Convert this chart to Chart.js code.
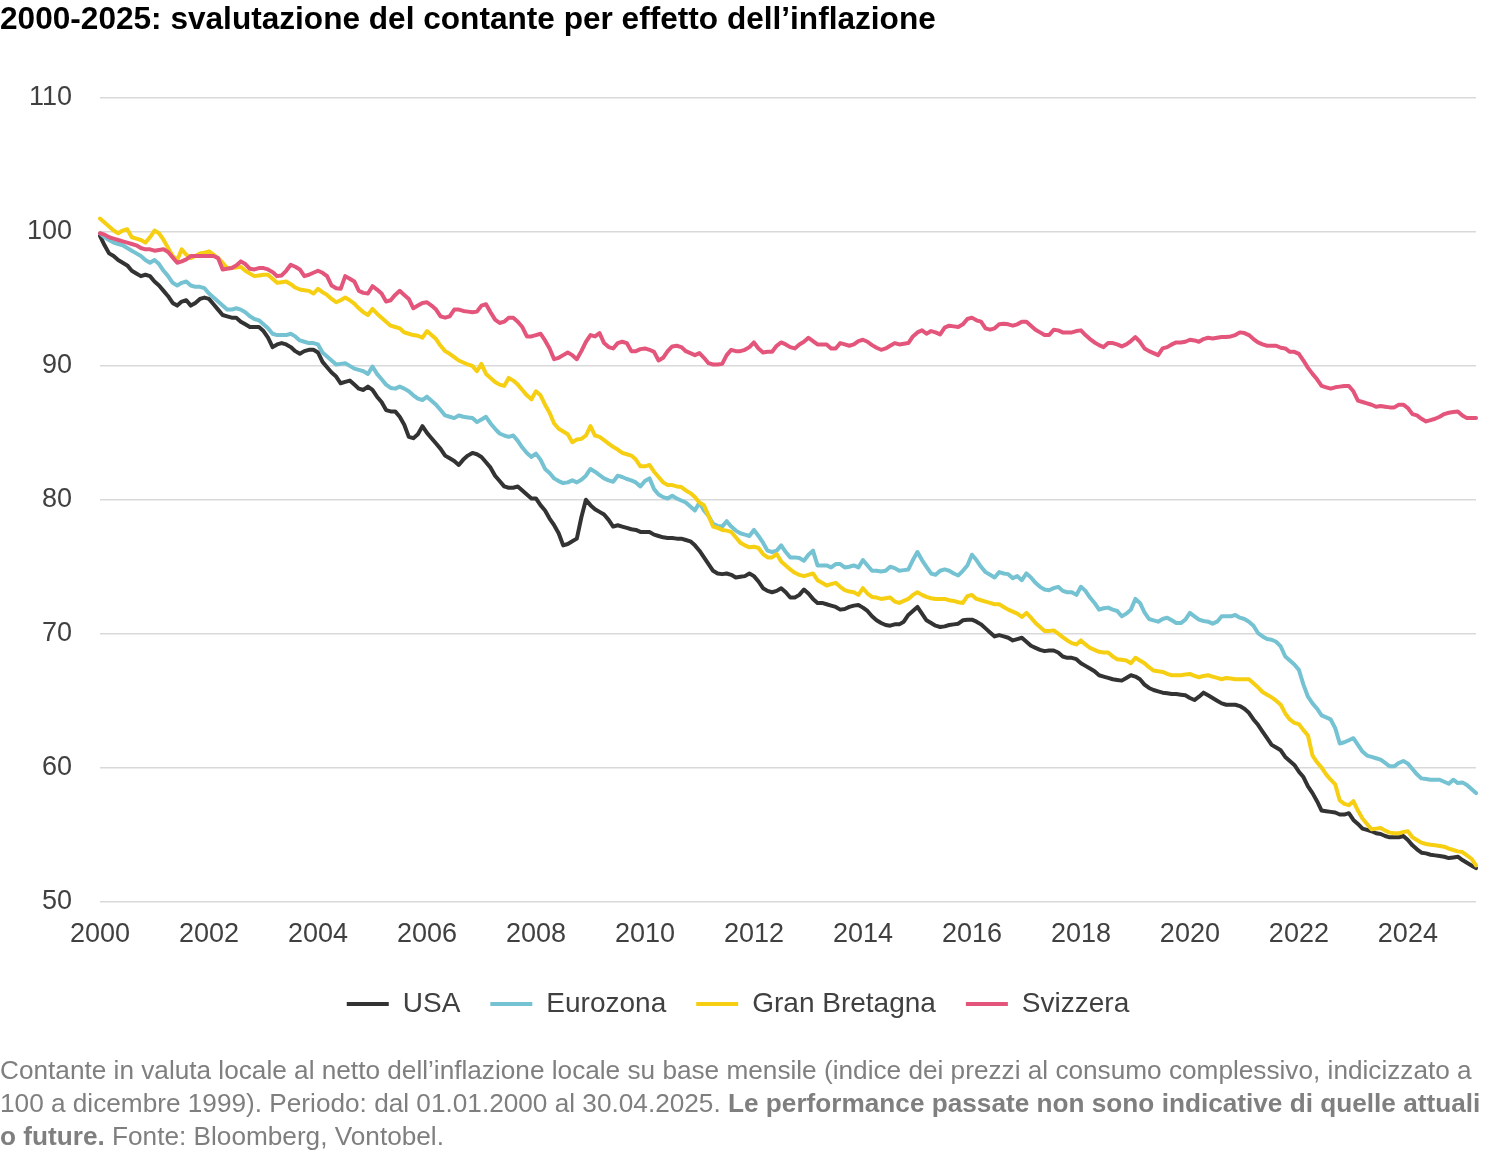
<!DOCTYPE html>
<html lang="it">
<head>
<meta charset="utf-8">
<title>Svalutazione del contante</title>
<script src="https://cdn.jsdelivr.net/npm/chart.js@4.4.1/dist/chart.umd.min.js"></script>
<style>
  html, body { margin: 0; padding: 0; background: #fff; }
  body { width: 1500px; height: 1154px; position: relative; overflow: hidden;
         font-family: 'Liberation Sans', Arial, sans-serif; }
  #title { position: absolute; left: 0; top: 0; font-weight: bold; font-size: 31.6px;
           line-height: 36px; color: #000; white-space: nowrap; }
  #wrap { position: absolute; left: 0; top: 0; width: 1500px; height: 1154px; }
  #note { position: absolute; left: 0; top: 1054px; font-size: 26.2px; line-height: 33px;
          color: #7f7f7f; white-space: nowrap; }
  #note b { font-weight: bold; }
</style>
</head>
<body>
<div id="wrap"><canvas id="chart"></canvas></div>
<div id="title">2000-2025: svalutazione del contante per effetto dell’inflazione</div>
<div id="note">Contante in valuta locale al netto dell’inflazione locale su base mensile (indice dei prezzi al consumo complessivo, indicizzato a<br>100 a dicembre 1999). Periodo: dal 01.01.2000 al 30.04.2025. <b>Le performance passate non sono indicative di quelle attuali</b><br><b>o future.</b> Fonte: Bloomberg, Vontobel.</div>
<script>
// monthly index values, Jan 2000 .. Apr 2025 (100 = Dec 1999)
const usa = [
  99.7, 99.0, 98.4, 98.2, 97.9, 97.7, 97.5, 97.1, 96.9, 96.7, 96.8, 96.7,
  96.3, 96.0, 95.6, 95.2, 94.7, 94.5, 94.8, 94.9, 94.5, 94.7, 95.0, 95.1,
  95.0, 94.6, 94.2, 93.8, 93.7, 93.6, 93.6, 93.3, 93.1, 92.9, 92.9, 92.9,
  92.6, 92.1, 91.4, 91.6, 91.7, 91.6, 91.4, 91.1, 90.9, 91.1, 91.2, 91.2,
  91.0, 90.3, 89.9, 89.5, 89.2, 88.7, 88.8, 88.9, 88.6, 88.3, 88.2, 88.45,
  88.2, 87.7, 87.3, 86.7, 86.6, 86.6, 86.2, 85.6, 84.7, 84.6, 84.9, 85.5,
  85.0, 84.6, 84.2, 83.8, 83.3, 83.1, 82.9, 82.6, 83.0, 83.3, 83.5, 83.4,
  83.2, 82.8, 82.4, 81.8, 81.4, 81.0, 80.9, 80.9, 81.0, 80.7, 80.4, 80.1,
  80.1, 79.6, 79.2, 78.6, 78.1, 77.5, 76.6, 76.7, 76.9, 77.1, 78.7, 80.0,
  79.6, 79.3, 79.1, 78.9, 78.5, 78.0, 78.1, 78.0, 77.9, 77.8, 77.75, 77.6,
  77.6, 77.6, 77.4, 77.3, 77.2, 77.15, 77.15, 77.1, 77.1, 77.0, 76.9, 76.6,
  76.2, 75.7, 75.2, 74.7, 74.5, 74.45, 74.5, 74.4, 74.2, 74.25, 74.3, 74.5,
  74.3, 73.9, 73.4, 73.2, 73.1, 73.2, 73.4, 73.1, 72.7, 72.7, 72.9, 73.3,
  73.0, 72.6, 72.3, 72.3, 72.2, 72.1, 72.0, 71.8, 71.85, 72.0, 72.1, 72.15,
  71.95, 71.7, 71.3, 71.0, 70.8, 70.65, 70.6, 70.7, 70.7, 70.9, 71.4, 71.7,
  72.0, 71.5, 71.0, 70.8, 70.6, 70.5, 70.55, 70.65, 70.7, 70.75, 71.0, 71.05,
  71.05, 70.9, 70.7, 70.4, 70.1, 69.8, 69.9, 69.8, 69.7, 69.5, 69.6, 69.7,
  69.4, 69.1, 68.95, 68.8, 68.7, 68.75, 68.75, 68.6, 68.3, 68.2, 68.2, 68.1,
  67.8, 67.6, 67.4, 67.2, 66.9, 66.8, 66.7, 66.6, 66.55, 66.5, 66.7, 66.9,
  66.8, 66.6, 66.2, 65.95, 65.8, 65.7, 65.6, 65.55, 65.5, 65.5, 65.45, 65.4,
  65.2, 65.05, 65.3, 65.6, 65.4, 65.2, 65.0, 64.8, 64.7, 64.7, 64.7, 64.6,
  64.4, 64.1, 63.6, 63.2, 62.7, 62.2, 61.7, 61.5, 61.3, 60.8, 60.5, 60.2,
  59.7, 59.3, 58.6, 58.1, 57.5, 56.8, 56.75, 56.7, 56.65, 56.5, 56.5, 56.6,
  56.1, 55.8, 55.45, 55.35, 55.25, 55.1, 55.05, 54.9, 54.8, 54.8, 54.8, 54.9,
  54.6, 54.2, 53.9, 53.65, 53.6, 53.5, 53.45, 53.4, 53.35, 53.25, 53.3, 53.35,
  53.1, 52.9, 52.7, 52.5
];
const eurozona = [
  99.9, 99.6, 99.4, 99.2, 99.1, 99.0, 98.8, 98.6, 98.4, 98.2, 97.9, 97.7,
  97.9, 97.6, 97.1, 96.7, 96.2, 96.0, 96.2, 96.3, 96.0, 95.9, 95.9, 95.8,
  95.4, 95.1, 94.8, 94.5, 94.2, 94.2, 94.3, 94.2, 94.0, 93.7, 93.5, 93.4,
  93.1, 92.8, 92.4, 92.3, 92.3, 92.3, 92.4, 92.2, 91.9, 91.8, 91.7, 91.7,
  91.6, 91.0, 90.7, 90.4, 90.1, 90.15, 90.2, 90.0, 89.8, 89.7, 89.6, 89.4,
  89.95, 89.4, 89.0, 88.6, 88.35, 88.3, 88.45, 88.3, 88.1, 87.8, 87.55, 87.45,
  87.7, 87.4, 87.1, 86.7, 86.3, 86.2, 86.1, 86.3, 86.2, 86.15, 86.1, 85.8,
  86.0, 86.2, 85.7, 85.3, 84.95, 84.8, 84.7, 84.8, 84.4, 83.9, 83.5, 83.2,
  83.45, 83.0, 82.3, 82.0, 81.6, 81.4, 81.25, 81.3, 81.45, 81.3, 81.5, 81.8,
  82.3, 82.1, 81.85, 81.6, 81.45, 81.35, 81.8, 81.7, 81.55, 81.45, 81.3, 81.0,
  81.4, 81.6, 80.8, 80.4, 80.2, 80.1, 80.3, 80.1, 79.95, 79.8, 79.5, 79.2,
  79.8, 79.2, 78.8, 78.2, 78.05, 78.0, 78.4, 78.0, 77.7, 77.5, 77.4, 77.3,
  77.75, 77.3, 76.8, 76.2, 76.1, 76.2, 76.6, 76.1, 75.7, 75.7, 75.65, 75.45,
  75.9, 76.2, 75.1, 75.1, 75.1, 74.95, 75.2, 75.2, 74.95, 75.0, 75.1, 74.95,
  75.5, 75.1, 74.7, 74.7, 74.65, 74.7, 75.0, 74.9, 74.7, 74.75, 74.8, 75.5,
  76.1, 75.5, 75.0, 74.5, 74.4, 74.7, 74.8, 74.7, 74.5, 74.35, 74.7, 75.1,
  75.9, 75.5, 75.0, 74.6, 74.4, 74.2, 74.6, 74.5, 74.45, 74.15, 74.3, 74.0,
  74.5, 74.2, 73.8, 73.5, 73.3, 73.25, 73.4, 73.5, 73.2, 73.1, 73.1, 72.9,
  73.5, 73.2, 72.7, 72.3, 71.8, 71.9, 71.95, 71.8, 71.7, 71.3, 71.5, 71.8,
  72.6, 72.3, 71.6, 71.1, 71.0, 70.9, 71.1, 71.2, 71.0, 70.8, 70.8, 71.05,
  71.55, 71.3, 71.05, 70.95, 70.9, 70.75, 70.9, 71.3, 71.3, 71.3, 71.4, 71.2,
  71.1, 70.9, 70.6, 70.05, 69.8, 69.6, 69.55, 69.4, 69.05, 68.3, 68.0, 67.7,
  67.3, 66.2, 65.3, 64.8, 64.4, 63.9, 63.75, 63.6, 62.95, 61.8, 61.9, 62.05,
  62.2, 61.7, 61.2, 60.9, 60.8, 60.7, 60.6, 60.35, 60.1, 60.1, 60.35, 60.5,
  60.3, 59.9, 59.5, 59.2, 59.15, 59.1, 59.1, 59.1, 58.95, 58.8, 59.1, 58.85,
  58.9, 58.7, 58.4, 58.1
];
const granBretagna = [
  101.0, 100.7, 100.4, 100.1, 99.9, 100.1, 100.2, 99.6, 99.5, 99.4, 99.2, 99.6,
  100.1, 99.9, 99.4, 98.8, 98.2, 97.9, 98.7, 98.3, 98.05, 98.2, 98.4, 98.45,
  98.55, 98.3, 98.05, 97.7, 97.3, 97.3, 97.35, 97.4, 97.1, 96.9, 96.7, 96.75,
  96.8, 96.8, 96.5, 96.2, 96.25, 96.3, 96.1, 95.85, 95.7, 95.65, 95.6, 95.4,
  95.75, 95.5, 95.3, 95.0, 94.75, 94.9, 95.1, 94.9, 94.65, 94.3, 94.0, 93.8,
  94.25, 93.9, 93.6, 93.3, 93.0, 92.9, 92.8, 92.5, 92.4, 92.3, 92.25, 92.1,
  92.6, 92.3, 92.0, 91.5, 91.1, 90.9, 90.65, 90.4, 90.25, 90.1, 90.0, 89.6,
  90.15, 89.4, 89.1, 88.8, 88.6, 88.5, 89.1, 88.9, 88.6, 88.2, 87.8, 87.5,
  88.1, 87.8, 87.1, 86.5, 85.7, 85.3, 85.1, 84.9, 84.3, 84.5, 84.55, 84.8,
  85.5, 84.8, 84.7, 84.45, 84.2, 83.95, 83.75, 83.5, 83.4, 83.3, 83.0, 82.5,
  82.5, 82.6, 82.1, 81.7, 81.3, 81.1, 81.1, 81.0, 80.95, 80.7, 80.5, 80.2,
  79.8, 79.6, 78.8, 78.0, 77.9, 77.75, 77.7, 77.6, 77.2, 76.8, 76.6, 76.45,
  76.5, 76.4, 75.95, 75.7, 75.7, 75.95, 75.4, 75.1, 74.8, 74.55, 74.4, 74.3,
  74.4, 74.5, 74.0, 73.8, 73.6, 73.7, 73.8, 73.5, 73.25, 73.15, 73.1, 72.9,
  73.4, 73.0, 72.75, 72.7, 72.6, 72.65, 72.7, 72.4, 72.3, 72.45, 72.6, 72.9,
  73.1, 72.9, 72.75, 72.65, 72.6, 72.6, 72.6, 72.5, 72.45, 72.35, 72.3, 72.8,
  72.9, 72.6, 72.5, 72.4, 72.3, 72.2, 72.2, 72.0, 71.8, 71.65, 71.5, 71.25,
  71.55, 71.2, 70.8, 70.5, 70.2, 70.2, 70.25, 70.0, 69.75, 69.5, 69.3, 69.2,
  69.5, 69.2, 68.95, 68.8, 68.65, 68.6, 68.6, 68.3, 68.1, 68.05, 68.0, 67.8,
  68.2, 68.0, 67.8, 67.5, 67.25, 67.2, 67.15, 67.0, 66.9, 66.9, 66.9, 66.95,
  67.0, 66.85, 66.75, 66.85, 66.9, 66.8, 66.7, 66.6, 66.7, 66.65, 66.6, 66.6,
  66.6, 66.6, 66.3, 66.0, 65.65, 65.45, 65.25, 65.0, 64.7, 64.05, 63.6, 63.35,
  63.25, 62.8, 62.4, 60.9, 60.4, 60.0, 59.5, 59.1, 58.75, 57.55, 57.3, 57.2,
  57.5, 56.8, 56.2, 55.8, 55.4, 55.45, 55.5, 55.3, 55.15, 55.1, 55.1, 55.2,
  55.25, 54.8, 54.6, 54.4, 54.3, 54.25, 54.2, 54.15, 54.1, 53.95, 53.85, 53.75,
  53.7, 53.45, 53.2, 52.7
];
const svizzera = [
  99.9, 99.8, 99.6, 99.5, 99.4, 99.3, 99.2, 99.1, 99.0, 98.8, 98.7, 98.7,
  98.6, 98.65, 98.7, 98.5, 98.1, 97.7, 97.8, 97.95, 98.2, 98.2, 98.2, 98.2,
  98.2, 98.2, 98.05, 97.2, 97.25, 97.3, 97.5, 97.8, 97.6, 97.25, 97.2, 97.3,
  97.3, 97.2, 97.0, 96.7, 96.75, 97.1, 97.55, 97.4, 97.2, 96.7, 96.8, 96.95,
  97.1, 96.95, 96.7, 96.0, 95.8, 95.75, 96.7, 96.5, 96.3, 95.6, 95.45, 95.4,
  95.95, 95.7, 95.4, 94.8, 94.9, 95.3, 95.6, 95.3, 95.0, 94.3, 94.5, 94.7,
  94.75, 94.5, 94.2, 93.7, 93.6, 93.7, 94.2, 94.2, 94.1, 94.05, 94.0, 94.05,
  94.5, 94.6, 94.0, 93.45, 93.2, 93.3, 93.6, 93.6, 93.3, 92.9, 92.2, 92.2,
  92.3, 92.4, 91.9, 91.3, 90.5, 90.6, 90.8, 91.0, 90.8, 90.5, 91.1, 91.8,
  92.3, 92.2, 92.45, 91.7, 91.4, 91.3, 91.7, 91.8, 91.7, 91.1, 91.1, 91.25,
  91.3, 91.2, 91.05, 90.4, 90.6, 91.1, 91.45, 91.5, 91.4, 91.1, 90.95, 90.8,
  90.95, 90.6, 90.2, 90.1, 90.1, 90.15, 90.8, 91.2, 91.1, 91.1, 91.2, 91.4,
  91.75, 91.3, 91.0, 91.05, 91.05, 91.5, 91.75, 91.6, 91.4, 91.3, 91.6, 91.8,
  92.1, 91.85, 91.6, 91.6, 91.6, 91.3, 91.3, 91.7, 91.6, 91.5, 91.6, 91.85,
  91.95, 91.8, 91.55, 91.35, 91.2, 91.3, 91.5, 91.7, 91.6, 91.65, 91.7, 92.2,
  92.5, 92.65, 92.4, 92.6, 92.5, 92.35, 92.85, 93.0, 92.95, 92.9, 93.1, 93.5,
  93.6, 93.4, 93.3, 92.8, 92.7, 92.8, 93.1, 93.15, 93.1, 93.0, 93.1, 93.3,
  93.3, 93.0, 92.7, 92.5, 92.3, 92.3, 92.7, 92.65, 92.5, 92.5, 92.5, 92.6,
  92.65, 92.3, 92.0, 91.75, 91.55, 91.4, 91.7, 91.7, 91.6, 91.45, 91.6, 91.85,
  92.15, 91.8, 91.3, 91.1, 90.95, 90.8, 91.3, 91.4, 91.6, 91.75, 91.75, 91.8,
  91.95, 91.9, 91.8, 92.0, 92.1, 92.05, 92.1, 92.15, 92.15, 92.2, 92.3, 92.5,
  92.45, 92.3, 92.0, 91.75, 91.6, 91.5, 91.5, 91.5, 91.35, 91.3, 91.05, 91.05,
  90.9, 90.4, 89.85, 89.4, 89.0, 88.5, 88.4, 88.3, 88.4, 88.45, 88.5, 88.5,
  88.1, 87.4, 87.3, 87.2, 87.1, 86.95, 87.0, 86.95, 86.9, 86.9, 87.1, 87.1,
  86.85, 86.4, 86.3, 86.05, 85.85, 85.95, 86.05, 86.2, 86.4, 86.5, 86.55, 86.6,
  86.3, 86.1, 86.1, 86.1
];

const seriesNames = ['USA', 'Eurozona', 'Gran Bretagna', 'Svizzera'];
const seriesColors = ['#333333', '#74c2d2', '#f6cf12', '#e3557b'];
const yTicks = [50, 60, 70, 80, 90, 100, 110];
const firstYear = 2000, lastYear = 2025, lastMonth = 4;

// one category per month
const months = [];
for (let y = firstYear; y <= lastYear; y++) {
  for (let m = 1; m <= 12; m++) {
    if (y === lastYear && m > lastMonth) break;
    months.push(y + '-' + String(m).padStart(2, '0'));
  }
}

Chart.defaults.font.family = "'Liberation Sans', Arial, sans-serif";
Chart.defaults.color = '#404040';

const values = [usa, eurozona, granBretagna, svizzera];
const datasets = values.map((data, i) => ({
  label: seriesNames[i],
  data: data,
  borderColor: seriesColors[i],
  backgroundColor: seriesColors[i],
  borderWidth: 4,
  borderCapStyle: 'round',
  borderJoinStyle: 'round',
  pointRadius: 0,
  tension: 0,
  order: values.length - i   // later series drawn on top
}));

new Chart(document.getElementById('chart'), {
  type: 'line',
  data: { labels: months, datasets: datasets },
  options: {
    responsive: true,
    maintainAspectRatio: false,
    animation: false,
    layout: { padding: { left: 0, right: 24, top: 98, bottom: 126 } },
    plugins: {
      title: { display: false },
      tooltip: { enabled: false },
      legend: {
        position: 'bottom',
        labels: {
          usePointStyle: true,
          pointStyle: 'line',
          pointStyleWidth: 42,
          padding: 30,
          color: '#404040',
          font: { size: 28 },
          sort: (a, b) => a.datasetIndex - b.datasetIndex
        }
      }
    },
    scales: {
      x: {
        type: 'category',
        offset: false,
        grid: { display: false, drawTicks: false },
        border: { display: false },
        ticks: {
          autoSkip: false,
          maxRotation: 0,
          minRotation: 0,
          padding: 17,
          font: { size: 27 },
          color: '#404040',
          callback: (v, i) => (i % 24 === 0 ? String(firstYear + i / 12) : null)
        },
        afterFit: (s) => { s.height -= 8; }
      },
      y: {
        min: yTicks[0],
        max: yTicks[yTicks.length - 1],
        afterBuildTicks: (s) => { s.ticks = yTicks.map(v => ({ value: v })); },
        grid: { color: '#d9d9d9', lineWidth: 1.5, drawTicks: false },
        border: { display: false },
        ticks: { padding: 28, font: { size: 27 }, color: '#404040' },
        afterFit: (s) => { s.width = 100; }
      }
    }
  }
});
</script>
</body>
</html>
